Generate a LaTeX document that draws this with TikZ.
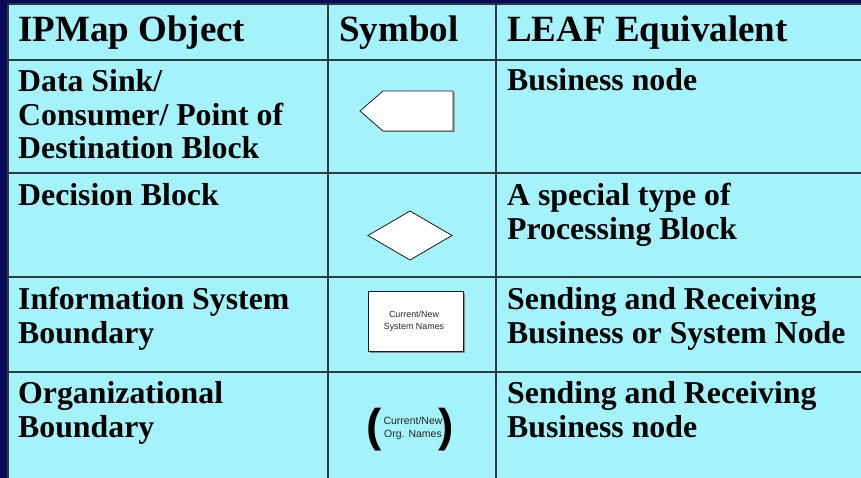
\documentclass[tikz,border=0pt]{standalone}
\usepackage{fontspec}
\setmainfont{Liberation Serif}
\newfontfamily\arialf{Liberation Sans}
\definecolor{bgnavy}{RGB}{10,10,92}
\definecolor{cellcyan}{RGB}{164,243,250}
\definecolor{gridline}{RGB}{45,58,60}
\definecolor{shapeline}{RGB}{30,30,30}
\tikzset{
  hdr/.style={anchor=base west, inner sep=0pt, font=\fontsize{37}{40}\selectfont\bfseries},
  body/.style={anchor=base west, inner sep=0pt, align=left, font=\fontsize{31.8}{33.8}\selectfont\bfseries},
  symshape/.style={draw=shapeline, fill=white, line width=0.8pt, line join=miter},
  symshadow/.style={fill=black!45},
  smalltext/.style={inner sep=0pt, align=center, text=black!85},
  paren/.style={inner sep=0pt, font=\arialf\fontsize{46}{46}\selectfont\bfseries}
}
\begin{document}
\begin{tikzpicture}[x=1pt,y=-1pt]
\fill[bgnavy] (0,0) rectangle (861,478);
\useasboundingbox (0,0) rectangle (861,478);
\fill[cellcyan] (8,4) rectangle (861,478);
% grid
\draw[gridline, line width=1.6pt] (861,4) -- (8,4) -- (8,478);
\foreach \yy in {60,173,277,372} \draw[gridline, line width=1.4pt] (8,\yy) -- (861,\yy);
\foreach \xx in {328,496} \draw[gridline, line width=1.4pt] (\xx,4) -- (\xx,478);
% header
\node[hdr] (h1) at (18,42) {IPMap Object};
\node[hdr] (h2) at (339,42) {Symbol};
\node[hdr] (h3) at (507,42) {LEAF Equivalent};
% row 1 (anchor = baseline of last line)
\node[body] (r1a) at (18,159) {Data Sink/\\Consumer/ Point of\\Destination Block};
\node[body] (r1c) at (507,91) {Business node};
\fill[symshadow] (361,112) -- (384,92) -- (454.5,92) -- (454.5,132) -- (384,132) -- cycle;
\draw[symshape] (360,111) -- (383,91) -- (453,91) -- (453,131) -- (383,131) -- cycle;
% row 2
\node[body] (r2a) at (18,206) {Decision Block};
\node[body] (r2c) at (507,239.5) {A special type of\\Processing Block};
\draw[symshape] (368,235.5) -- (410,211) -- (452,235.5) -- (410,260) -- cycle;
% row 3
\node[body] (r3a) at (18,343.7) {Information System\\Boundary};
\node[body] (r3c) at (507,343.7) {Sending and Receiving\\Business or System Node};
\fill[symshadow] (369.5,292.5) rectangle (464.5,352.5);
\draw[symshape] (368,291) rectangle (463,351);
\node[smalltext, font=\arialf\fontsize{8.9}{11.5}\selectfont] (sysnames) at (414,321) {Current/New\\System Names};
% row 4
\node[body] (r4a) at (18,437.7) {Organizational\\Boundary};
\node[body] (r4c) at (507,437.7) {Sending and Receiving\\Business node};
\node[paren] (lp) at (374,429.5) {(};
\node[paren] (rp) at (446,429.5) {)};
\node[smalltext, font=\arialf\fontsize{10.5}{13}\selectfont] (orgnames) at (413,428.5) {Current/New\\Org. Names};
\end{tikzpicture}
\end{document}
